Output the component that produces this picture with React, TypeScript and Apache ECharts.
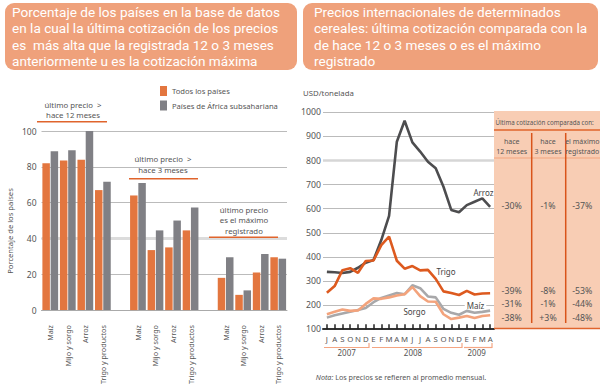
import React, { useEffect, useRef } from "react";
import * as echarts from "echarts";

// ---------- DATA ----------
const barCategories = ["Maíz", "Mijo y sorgo", "Arroz", "Trigo y productos"];
const todosHace12 = [82, 83.5, 84, 67];
const africaHace12 = [88.7, 89.3, 100, 71.7];
const todosHace3 = [64, 33.5, 35, 44.5];
const africaHace3 = [71, 44.5, 50, 57.3];
const todosMax = [18, 8.5, 21, 29.5];
const africaMax = [29.5, 11, 31.3, 28.7];
const barTicks = { min: 0, max: 100, interval: 20 };

const months = ["J", "A", "S", "O", "N", "D", "E", "F", "M", "A", "M", "J", "J", "A", "S", "O", "N", "D", "E", "F", "M", "A"];
const years = ["2007", "2008", "2009"];
const arroz = [338, 336, 333, 338, 355, 376, 387, 470, 570, 878, 965, 875, 837, 795, 768, 691, 595, 585, 615, 629, 643, 608];
const trigo = [251, 279, 345, 353, 334, 383, 385, 449, 484, 384, 351, 362, 344, 346, 309, 257, 250, 242, 259, 244, 248, 249];
const maiz = [148, 158, 165, 172, 180, 188, 212, 230, 240, 250, 245, 282, 270, 236, 232, 184, 168, 160, 176, 168, 172, 177];
const sorgo = [162, 172, 182, 176, 178, 205, 228, 226, 232, 240, 245, 275, 237, 215, 214, 162, 142, 148, 155, 146, 155, 158];
const priceTicks = { min: 100, max: 1000, interval: 100 };

const leftTitle = [
  "Porcentaje de los países en la base de datos",
  "en la cual la última cotización de los precios",
  "es  más alta que la registrada 12 o 3 meses",
  "anteriormente u es la cotización máxima",
];
const rightTitle = [
  "Precios internacionales de determinados",
  "cereales: última cotización comparada con la",
  "de hace 12 o 3 meses o es el máximo",
  "registrado",
];
const tableColumns = [["hace", "12 meses"], ["hace", "3 meses"], ["el máximo", "registrado"]];
const tableArroz = ["-30%", "-1%", "-37%"];
const tableTrigo = ["-39%", "-8%", "-53%"];
const tableMaiz = ["-31%", "-1%", "-44%"];
const tableSorgo = ["-38%", "+3%", "-48%"];

// ---------- STYLE ----------
const FONT = "Noto Sans";
const TITLE_FONT = "Roboto";
const ORANGE = "#E3763F";
const GRAY = "#808085";
const HEADER_BG = "#EFA17B";
const TXT = "#555";
const LINE_ORANGE = "#E0642C";

function txt(x: number, y: number, text: string, o: any = {}) {
  const align = o.align || "left";
  const va = o.va || "middle";
  return {
    type: "text",
    z: o.z ?? 10,
    x,
    y,
    rotation: o.rotation || 0,
    style: {
      text,
      fill: o.color || TXT,
      fontSize: o.size || 8,
      fontFamily: o.font || FONT,
      fontStyle: o.italic ? "italic" : "normal",
      align,
      verticalAlign: va,
      textAlign: align,
      textVerticalAlign: va,
      backgroundColor: o.bg,
      padding: o.pad,
      rich: o.rich,
    },
  };
}
function hline(x1: number, x2: number, y: number, color: string, w = 1.5, z = 10) {
  return { type: "line", z, shape: { x1, y1: y, x2, y2: y }, style: { stroke: color, lineWidth: w } };
}
function vline(x: number, y1: number, y2: number, color: string, w = 1.5, z = 10) {
  return { type: "line", z, shape: { x1: x, y1, x2: x, y2 }, style: { stroke: color, lineWidth: w } };
}

export default function App() {
  const ref = useRef<HTMLDivElement>(null);
  useEffect(() => {
    const chart = echarts.init(ref.current!, null, { renderer: "svg" });

    const groupsTodos = [todosHace12, todosHace3, todosMax];
    const groupsAfrica = [africaHace12, africaHace3, africaMax];
    const barKeys: string[] = [];
    const dTodos: any[] = [];
    const dAfrica: any[] = [];
    groupsTodos.forEach((g, gi) => {
      if (gi > 0) {
        barKeys.push(barKeys.length + "|");
        dTodos.push("-");
        dAfrica.push("-");
      }
      g.forEach((v, i) => {
        barKeys.push(barKeys.length + "|" + barCategories[i]);
        dTodos.push(v);
        dAfrica.push(groupsAfrica[gi][i]);
      });
    });
    const monthKeys = months.map((m, i) => i + "|" + m);

    const graphic: any[] = [];
    graphic.push({ type: "rect", z: 5, shape: { x: 5, y: 3, width: 292, height: 67, r: 9 }, style: { fill: HEADER_BG } });
    graphic.push({ type: "rect", z: 5, shape: { x: 303, y: 3, width: 295, height: 67, r: 9 }, style: { fill: HEADER_BG } });
    const titleY = [12.3, 28.4, 44.5, 60.6];
    leftTitle.forEach((t, i) => graphic.push(txt(12, titleY[i], t, { size: 13.6, color: "#fff", font: TITLE_FONT })));
    rightTitle.forEach((t, i) => graphic.push(txt(314, titleY[i], t, { size: 13.6, color: "#fff", font: TITLE_FONT })));

    // left chart annotations
    graphic.push(txt(73, 105, "último precio  >", { size: 7.8, align: "center" }));
    graphic.push(txt(73, 115.3, "hace 12 meses", { size: 7.8, align: "center" }));
    graphic.push(hline(37, 107, 121.7, LINE_ORANGE));
    graphic.push(txt(163, 159.3, "último precio  >", { size: 7.8, align: "center" }));
    graphic.push(txt(163, 169.5, "hace 3 meses", { size: 7.8, align: "center" }));
    graphic.push(hline(129, 198, 178.7, LINE_ORANGE));
    graphic.push(txt(244, 210, "último precio", { size: 7.8, align: "center" }));
    graphic.push(txt(244, 220.3, "es el máximo", { size: 7.8, align: "center" }));
    graphic.push(txt(244, 230.6, "registrado", { size: 7.8, align: "center" }));
    graphic.push(hline(209, 278, 237.3, LINE_ORANGE));
    graphic.push(txt(10, 231, "Porcentaje de los países", { size: 7.6, align: "center", rotation: Math.PI / 2 }));

    // right chart annotations
    graphic.push(txt(303, 93, "USD/tonelada", { size: 7.8 }));
    graphic.push(txt(483.5, 192.7, "Arroz", { size: 8, align: "center", color: "#444" }));
    graphic.push(txt(446, 271.7, "Trigo", { size: 8, align: "center", color: "#444" }));
    graphic.push(txt(475.5, 305, "Maíz", { size: 8, align: "center", color: "#444", bg: "#fff", pad: [0, 2] }));
    graphic.push(txt(414.5, 311.7, "Sorgo", { size: 8, align: "center", color: "#444" }));
    const yearX = [346.7, 413, 476.7];
    years.forEach((y, i) => graphic.push(txt(yearX[i], 352.7, y, { size: 8, align: "center" })));
    const brackets = [[324, 369], [372, 462], [464, 492]];
    brackets.forEach(([a, b]) => {
      graphic.push(hline(a, b, 347.5, "#F4A582", 1.2));
      graphic.push(vline(b, 343, 348, "#F4A582", 1.2));
    });
    graphic.push(
      txt(401, 376.7, "{i|Nota:} Los precios se refieren al promedio mensual.", {
        size: 7.2, align: "center",
        rich: { i: { fontStyle: "italic", fontSize: 7.2, fontFamily: FONT, fill: TXT } },
      })
    );

    // table
    graphic.push({ type: "rect", z: 6, shape: { x: 494, y: 111, width: 106, height: 218 }, style: { fill: "#F8CDB4" } });
    graphic.push(txt(495.5, 122.7, "Última cotización comparada con:", { size: 6.2 }));
    graphic.push(hline(494, 600, 130, LINE_ORANGE, 1.5));
    graphic.push(hline(494, 600, 158, "#F2A57F", 1));
    graphic.push(vline(531.7, 133, 323, "#D9541A", 1.5));
    graphic.push(vline(565.7, 133, 323, "#D9541A", 1.5));
    graphic.push(hline(494, 600, 328.5, LINE_ORANGE, 1.5));
    const colX = [511.7, 548, 582.3];
    tableColumns.forEach((c, i) => {
      graphic.push(txt(colX[i], 141.3, c[0], { size: 7, align: "center" }));
      graphic.push(txt(colX[i], 151.7, c[1], { size: 7, align: "center" }));
    });
    const rows: [string[], number][] = [[tableArroz, 206], [tableTrigo, 290.7], [tableMaiz, 304], [tableSorgo, 317.7]];
    rows.forEach(([vals, y]) => vals.forEach((v, i) => graphic.push(txt(colX[i], y, v, { size: 8.8, align: "center" }))));

    const option: any = {
      animation: false,
      textStyle: { fontFamily: FONT },
      legend: {
        data: ["Todos los países", "Países de África subsahariana"],
        orient: "vertical",
        left: 160,
        top: 86,
        itemWidth: 7,
        itemHeight: 10,
        itemGap: 4.5,
        padding: 0,
        icon: "rect",
        textStyle: { fontSize: 7.6, color: TXT, fontFamily: FONT },
      },
      grid: [
        { left: 41.5, right: 600 - 287, top: 131, bottom: 387 - 311 },
        { left: 323, right: 600 - 494, top: 112.3, bottom: 387 - 329.2 },
      ],
      xAxis: [
        {
          gridIndex: 0,
          type: "category",
          data: barKeys,
          axisTick: { show: false },
          axisLine: { lineStyle: { color: "#aaa", width: 1 } },
          axisLabel: {
            interval: 0,
            rotate: 90,
            fontSize: 7.2,
            color: TXT,
            margin: 15,
            padding: [0, 0, 11, 0],
            formatter: (v: string) => v.split("|")[1],
          },
        },
        {
          gridIndex: 1,
          type: "category",
          data: monthKeys,
          boundaryGap: true,
          axisTick: { show: true, alignWithLabel: true, inside: true, length: 5, lineStyle: { color: "#222", width: 1.5 } },
          axisLine: { lineStyle: { color: "#333", width: 2 } },
          axisLabel: { interval: 0, fontSize: 7.8, color: TXT, margin: 6, formatter: (v: string) => v.split("|")[1] },
        },
      ],
      yAxis: [
        {
          gridIndex: 0,
          type: "value",
          min: barTicks.min,
          max: barTicks.max,
          interval: barTicks.interval,
          axisLine: { show: false },
          axisTick: { show: false },
          axisLabel: { fontSize: 8.5, color: TXT, margin: 5 },
          splitLine: { lineStyle: { color: "#bbb", width: 1 } },
        },
        {
          gridIndex: 1,
          type: "value",
          min: priceTicks.min,
          max: priceTicks.max,
          interval: priceTicks.interval,
          axisLine: { show: false },
          axisTick: { show: false },
          axisLabel: { fontSize: 8.7, color: TXT, margin: 2, formatter: (v: number) => String(v) },
          splitLine: { lineStyle: { color: "#bbb", width: 1 } },
        },
      ],
      series: [
        {
          name: "Todos los países",
          type: "bar",
          xAxisIndex: 0,
          yAxisIndex: 0,
          data: dTodos,
          barWidth: 7.5,
          barGap: "10%",
          itemStyle: { color: ORANGE },
          markLine: {
            silent: true,
            symbol: "none",
            z: 1,
            label: { show: false },
            lineStyle: { color: "#dcdcdc", width: 3, type: "solid" },
            data: [{ yAxis: 40 }],
          },
        },
        {
          name: "Países de África subsahariana",
          type: "bar",
          xAxisIndex: 0,
          yAxisIndex: 0,
          data: dAfrica,
          barWidth: 7.5,
          barGap: "10%",
          itemStyle: { color: GRAY },
        },
        { name: "Maíz", type: "line", xAxisIndex: 1, yAxisIndex: 1, data: maiz, symbol: "none", lineStyle: { color: "#A8A8AA", width: 2.6 }, itemStyle: { color: "#A8A8AA" } },
        { name: "Sorgo", type: "line", xAxisIndex: 1, yAxisIndex: 1, data: sorgo, symbol: "none", lineStyle: { color: "#F3A37C", width: 2.6 }, itemStyle: { color: "#F3A37C" } },
        {
          name: "Arroz", type: "line", xAxisIndex: 1, yAxisIndex: 1, data: arroz, symbol: "none",
          lineStyle: { color: "#4D4D4F", width: 2.6 }, itemStyle: { color: "#4D4D4F" },
          markLine: {
            silent: true, symbol: "none", z: 1, label: { show: false },
            lineStyle: { color: "#d6d6d6", width: 2.5, type: "solid" },
            data: [{ yAxis: 800 }],
          },
        },
        { name: "Trigo", type: "line", xAxisIndex: 1, yAxisIndex: 1, data: trigo, symbol: "none", lineStyle: { color: "#DD5A1F", width: 2.6 }, itemStyle: { color: "#DD5A1F" } },
      ],
      graphic,
    };
    chart.setOption(option);
    return () => chart.dispose();
  }, []);
  return <div ref={ref} style={{ position: "absolute", left: 0, top: 0, width: 600, height: 387 }} />;
}
